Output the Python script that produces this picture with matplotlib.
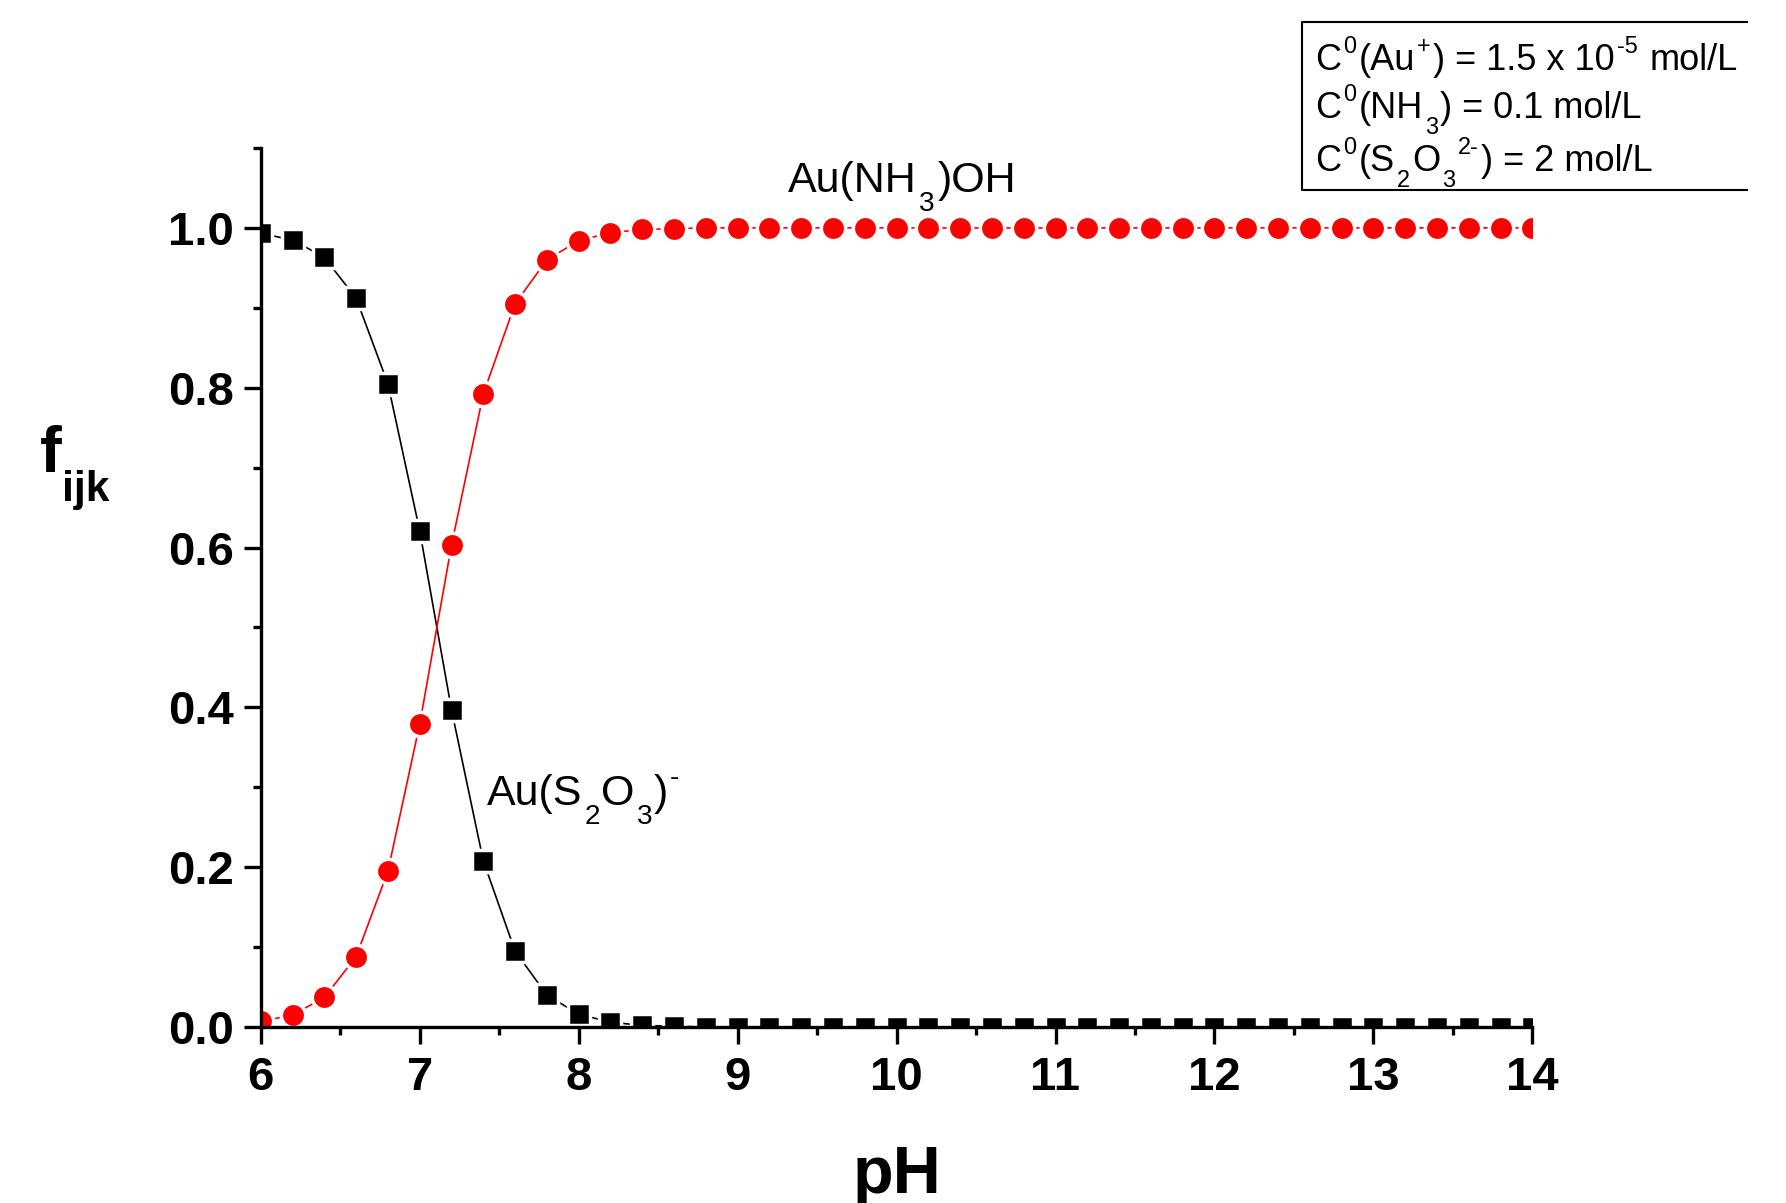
import matplotlib
matplotlib.use('Agg')
import matplotlib.pyplot as plt
from matplotlib.lines import Line2D
from matplotlib.ticker import MultipleLocator, FormatStrFormatter


plt.rcParams['font.family'] = ['Liberation Sans', 'DejaVu Sans']


#%% Data

ph = [6.0, 6.2, 6.4, 6.6, 6.8, 7.0, 7.2, 7.4, 7.6, 7.8,
      8.0, 8.2, 8.4, 8.6, 8.8, 9.0, 9.2, 9.4, 9.6, 9.8,
      10.0, 10.2, 10.4, 10.6, 10.8, 11.0, 11.2, 11.4, 11.6, 11.8,
      12.0, 12.2, 12.4, 12.6, 12.8, 13.0, 13.2, 13.4, 13.6, 13.8,
      14.0]

f_au_s2o3 = [0.993, 0.985, 0.963, 0.912, 0.805, 0.621, 0.397, 0.208, 0.095, 0.040,
             0.016, 0.006, 0.002, 0.001, 0.0, 0.0, 0.0, 0.0, 0.0, 0.0,
             0.0, 0.0, 0.0, 0.0, 0.0, 0.0, 0.0, 0.0, 0.0, 0.0,
             0.0, 0.0, 0.0, 0.0, 0.0, 0.0, 0.0, 0.0, 0.0, 0.0,
             0.0]

f_au_nh3_oh = [0.007, 0.015, 0.037, 0.088, 0.195, 0.379, 0.603, 0.792, 0.905, 0.960,
               0.984, 0.994, 0.998, 0.999, 1.0, 1.0, 1.0, 1.0, 1.0, 1.0,
               1.0, 1.0, 1.0, 1.0, 1.0, 1.0, 1.0, 1.0, 1.0, 1.0,
               1.0, 1.0, 1.0, 1.0, 1.0, 1.0, 1.0, 1.0, 1.0, 1.0,
               1.0]

# rich text pieces: (text, 'n' normal / 'sub' / 'sup')
label_s2o3 = [('Au(S', 'n'), ('2', 'sub'), ('O', 'n'), ('3', 'sub'),
              (')', 'n'), ('-', 'sup')]
label_nh3oh = [('Au(NH', 'n'), ('3', 'sub'), (')OH', 'n')]
ylabel_parts = [('f', 'n'), ('ijk', 'sub')]
conditions = [
    [('C', 'n'), ('0', 'sup'), ('(Au', 'n'), ('+', 'sup'),
     (') = 1.5 x 10', 'n'), ('-5', 'sup'), (' mol/L', 'n')],
    [('C', 'n'), ('0', 'sup'), ('(NH', 'n'), ('3', 'sub'),
     (') = 0.1 mol/L', 'n')],
    [('C', 'n'), ('0', 'sup'), ('(S', 'n'), ('2', 'sub'), ('O', 'n'),
     ('3', 'sub'), ('2-', 'sup'), (') = 2 mol/L', 'n')],
]


#%% Plot

fig = plt.figure(figsize=(17.86, 12.03), dpi=100)
ax = fig.add_axes([0.146, 0.1463, 0.712, 0.7307])
renderer = fig.canvas.get_renderer()


def rich_text(x, y, parts, size, weight='normal', gap=0.06):
    """Origin-like text with low subscripts and high superscripts."""
    px, py = fig.transFigure.transform((x, y))
    em = size * fig.dpi / 72
    for i, (s, kind) in enumerate(parts):
        if kind == 'sub':
            fs, dy = size * 0.65, -0.45 * em
        elif kind == 'sup':
            fs, dy = size * 0.65, 0.47 * em
        else:
            fs, dy = size, 0.0
        if i > 0:
            px += gap * em
        space = 0.278 * fs * fig.dpi / 72
        px += (len(s) - len(s.lstrip())) * space
        fx, fy = fig.transFigure.inverted().transform((px, py + dy))
        t = fig.text(fx, fy, s.strip(), fontsize=fs, fontweight=weight,
                     ha='left', va='baseline')
        px = t.get_window_extent(renderer).x1
        px += (len(s) - len(s.rstrip())) * space


ax.plot(ph, f_au_s2o3, color='black', lw=1.2, marker='s', ms=15.5,
        mfc='black', mec='white', mew=2.5)
ax.plot(ph, f_au_nh3_oh, color='red', lw=1.2, marker='o', ms=17.5,
        mfc='red', mec='white', mew=2.5)

ax.set_xlim(6, 14)
ax.set_ylim(0, 1.1)
ax.xaxis.set_major_locator(MultipleLocator(1))
ax.xaxis.set_minor_locator(MultipleLocator(0.5))
ax.yaxis.set_major_locator(MultipleLocator(0.2))
ax.yaxis.set_minor_locator(MultipleLocator(0.1))
ax.yaxis.set_major_formatter(FormatStrFormatter('%.1f'))

for side in ['top', 'right']:
    ax.spines[side].set_visible(False)
for side in ['left', 'bottom']:
    ax.spines[side].set_linewidth(2.4)

ax.tick_params(which='major', direction='out', length=12, width=2.4,
               labelsize=34)
ax.tick_params(axis='x', which='major', pad=9)
ax.tick_params(axis='y', which='major', pad=7)
ax.tick_params(which='minor', direction='out', length=6, width=2.4)
for lab in ax.get_xticklabels() + ax.get_yticklabels():
    lab.set_fontweight('bold')

# axis labels
fig.text(0.5025, 0.0083, 'pH', fontsize=48, fontweight='bold',
         ha='center', va='baseline')
rich_text(0.0224, 0.6077, ylabel_parts, 47, weight='bold', gap=0.0)

# species labels
rich_text(0.2727, 0.3308, label_s2o3, 31, gap=0.04)
rich_text(0.4412, 0.8404, label_nh3oh, 31)

# conditions box (right side cut off as in the original)
fig.add_artist(Line2D([0.978, 0.729, 0.729, 0.978],
                      [0.9817, 0.9817, 0.842, 0.842],
                      transform=fig.transFigure, color='black', lw=1.5))
for parts, yb in zip(conditions, [0.942, 0.902, 0.858]):
    rich_text(0.7363, yb, parts, 26)

fig.savefig('out.png', dpi=100)
